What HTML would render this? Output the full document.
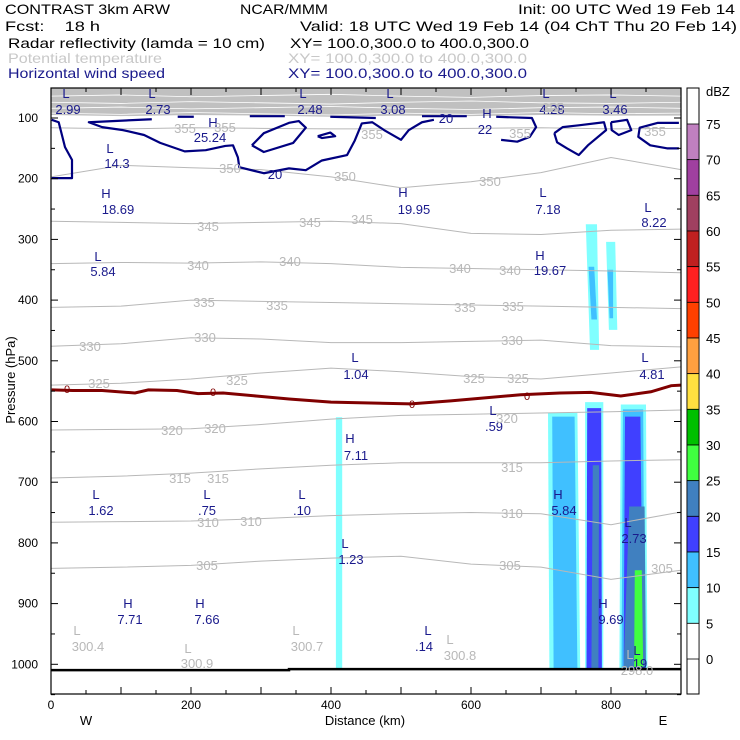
<!DOCTYPE html>
<html><head><meta charset="utf-8"><style>
html,body{margin:0;padding:0;background:#fff;}
svg{display:block;font-family:"Liberation Sans",sans-serif;}
</style></head><body>
<svg id="chart" width="740" height="740" viewBox="0 0 740 740" xmlns="http://www.w3.org/2000/svg">
<g font-size="14">
<text x="5" y="14" fill="#000" textLength="165" lengthAdjust="spacingAndGlyphs">CONTRAST  3km ARW</text>
<text x="240" y="14" fill="#000" textLength="88" lengthAdjust="spacingAndGlyphs">NCAR/MMM</text>
<text x="518" y="14" fill="#000" textLength="217" lengthAdjust="spacingAndGlyphs">Init: 00 UTC Wed 19 Feb 14</text>
<text x="5" y="31" fill="#000" xml:space="preserve" textLength="95" lengthAdjust="spacingAndGlyphs">Fcst:    18 h</text>
<text x="300" y="31" fill="#000" textLength="437" lengthAdjust="spacingAndGlyphs">Valid: 18 UTC Wed 19 Feb 14 (04 ChT Thu 20 Feb 14)</text>
<text x="8" y="48" fill="#000" textLength="257" lengthAdjust="spacingAndGlyphs">Radar reflectivity (lamda = 10 cm)</text>
<text x="290" y="48" fill="#000" textLength="239" lengthAdjust="spacingAndGlyphs">XY= 100.0,300.0 to 400.0,300.0</text>
<text x="8" y="63" fill="#c8c8c8" textLength="154" lengthAdjust="spacingAndGlyphs">Potential temperature</text>
<text x="288" y="63" fill="#c8c8c8" textLength="239" lengthAdjust="spacingAndGlyphs">XY= 100.0,300.0 to 400.0,300.0</text>
<text x="8" y="78" fill="#1a1a8c" textLength="157" lengthAdjust="spacingAndGlyphs">Horizontal wind speed</text>
<text x="288" y="78" fill="#1a1a8c" textLength="239" lengthAdjust="spacingAndGlyphs">XY= 100.0,300.0 to 400.0,300.0</text>
</g>
<defs><clipPath id="plotclip"><rect x="51" y="88" width="630" height="606"/></clipPath></defs>
<g id="plot" clip-path="url(#plotclip)"></g>
<g id="labels"></g>
<rect x="51" y="88" width="630" height="606" fill="none" stroke="#000" stroke-width="1.2"/>
<g id="axes" font-size="12"></g>
<g id="cbar" font-size="13"></g>
</svg>
<script>
// ---------- data ----------
const pressureTicks = [100,200,300,400,500,600,700,800,900,1000];
const distanceTicks = [0,200,400,600,800];
const gridKm = [0,100,200,300,400,500,600,700,800,900];
const thetaLevels = [355,350,345,340,335,330,325,320,315,310,305];
const thetaP355 = [116,118,116,117,118,118,117,116,118,117];
const thetaP350 = [197,178,182,185,197,215,205,190,165,185];
const thetaP345 = [270,272,274,272,270,274,290,292,285,283];
const thetaP340 = [340,338,339,337,340,346,348,350,352,355];
const thetaP335 = [412,410,400,402,404,406,408,410,412,414];
const thetaP330 = [476,472,462,464,470,470,468,466,475,477];
const thetaP325 = [540,537,530,520,512,518,526,530,520,510];
const thetaP320 = [614,613,612,605,596,590,588,586,584,581];
const thetaP315 = [693,690,685,678,672,668,668,668,665,663];
const thetaP310 = [766,765,764,760,755,752,750,752,770,749];
const thetaP305 = [842,840,837,830,825,822,835,840,860,845];
const thetaSeries = [thetaP355,thetaP350,thetaP345,thetaP340,thetaP335,thetaP330,thetaP325,thetaP320,thetaP315,thetaP310,thetaP305];
const upperLevels = [360,370,380,390];
const upperP360 = [92,94,91,93,95,92,94,91,93,92];
const upperP370 = [84,82,85,83,81,84,86,83,82,84];
const upperP380 = [74,76,73,75,77,74,72,75,76,74];
const upperP390 = [64,62,65,63,61,64,66,63,62,64];
const upperSeries = [upperP360,upperP370,upperP380,upperP390];
const denseBandBottomP = [95,97,95,96,98,96,97,95,96,96];
const frzKm = [1,31,73,120,139,180,210,246,293,340,400,514,571,671,727,771,814,857,886,900];
const frzP  = [548,549,549,553,548,549,554,553,558,563,568,571,566,556,553,552,558,551,541,540];
const windKm = [
 [1,11,20,30,30,1],
 [144,54,73,103,133,156,191,221,249,260,267,269,304,340,364,387,423,434,444,459,476,500,511,530,547],
 [287,304,340,354,364,346,304,287],
 [381,399,406,387,381],
 [636,687,693,684,666,643],
 [719,731,754,790,793,767,754,737,723,719],
 [800,823,829,811,801,800],
 [897,867,841,839,856,880,897],
 [181,204],[284,334],[399,464],[530,594]
];
const windP = [
 [103,107,148,169,199,199],
 [102,107,115,120,128,141,155,153,146,145,165,181,191,183,186,170,161,137,109,107,120,136,120,107,103],
 [145,125,108,105,116,141,156,145],
 [130,124,130,133,130],
 [98,100,115,131,139,136],
 [125,115,112,107,120,145,161,150,140,125],
 [107,103,120,128,120,107],
 [108,108,116,131,145,150,150],
 [98,98],[97,97],[98,100],[97,97]
];
const cellTLkm = [407,764,768,793,795,710,716,763,766,774,814,817,820,826,834];
const cellTRkm = [416,780,776,806,803,752,748,789,786,783,850,846,842,848,844];
const cellBLkm = [407,770,772,797,798,712,718,763,765,772,812,815,818,818,833];
const cellBRkm = [416,783,780,809,803,756,752,789,787,782,852,848,846,850,846];
const cellTopP = [593,275,345,304,350,586,592,568,578,672,572,580,592,740,845];
const cellBotP = [1008,482,432,449,430,1008,1008,1008,1008,1008,1008,1008,1008,1008,1008];
const cellDbz  = [5,5,10,5,10,5,10,5,15,20,5,10,15,20,25];
const cbarLevels = [75,70,65,60,55,50,45,40,35,30,25,20,15,10,5,0];
const cbarColors = ["#c080c0","#a040a0","#a04060","#c02020","#ff2020","#ff4000","#ffa040","#ffe040","#00c000","#40ff40","#4080c0","#4040ff","#40c0ff","#80ffff","#ffffff"];
const dbzColors = {5:"#80ffff",10:"#40c0ff",15:"#4040ff",20:"#4080c0",25:"#40ff40"};
// ---------- scales ----------
const X0=51, KMPX=0.7, Y100=118, PPX=0.607;
const xS = km => X0 + km*KMPX;
const yS = p => Y100 + (p-100)*PPX;
const NS="http://www.w3.org/2000/svg";
function mk(tag, attrs, parent){const e=document.createElementNS(NS,tag);for(const k in attrs)e.setAttribute(k,attrs[k]);parent.appendChild(e);return e;}
const plot=document.getElementById('plot');
let d="M"+xS(0)+","+yS(40);
gridKm.forEach((k,i)=>{d+=" L"+xS(k)+","+yS(denseBandBottomP[i]);});
d+=" L"+xS(900)+","+yS(40)+" Z";
const band=mk('path',{d:d,fill:"#c0c0c0"},plot);


upperSeries.forEach((arr,j)=>{
  const pts=gridKm.map((k,i)=>xS(k)+","+yS(arr[i])).join(" ");
  const l=mk('polyline',{points:pts,fill:"none",stroke:"#fff","stroke-width":0.8},plot);
  
  
});
cellDbz.forEach((z,i)=>{
  const pts=[[xS(cellTLkm[i]),yS(cellTopP[i])],[xS(cellTRkm[i]),yS(cellTopP[i])],[xS(cellBRkm[i]),yS(cellBotP[i])],[xS(cellBLkm[i]),yS(cellBotP[i])]].map(a=>a.join(",")).join(" ");
  const c=mk('polygon',{points:pts,fill:dbzColors[z]},plot);
  
  
});
thetaSeries.forEach((arr,j)=>{
  const pts=gridKm.map((k,i)=>xS(k)+","+yS(arr[i])).join(" ");
  const l=mk('polyline',{points:pts,fill:"none",stroke:"#b8b8b8","stroke-width":1},plot);
  
  
});
const fz=mk('polyline',{points:frzKm.map((k,i)=>xS(k)+","+yS(frzP[i])).join(" "),fill:"none",stroke:"#800000","stroke-width":3},plot);


windKm.forEach((ks,j)=>{
  const pts=ks.map((k,i)=>xS(k)+","+yS(windP[j][i])).join(" ");
  const w=mk('polyline',{points:pts,fill:"none",stroke:"#000080","stroke-width":2.2,"stroke-linejoin":"round"},plot);
  
  
});
const sf=mk('polyline',{points:xS(0)+","+(yS(1008)+1)+" "+xS(340)+","+(yS(1008)+1)+" "+xS(340)+","+yS(1008)+" "+xS(900)+","+yS(1008),fill:"none",stroke:"#000","stroke-width":2.5},plot);


// ---------- text labels ----------
const lab=document.getElementById('labels');
function txt(x,y,s,col,name,size){const t=mk('text',{x:x,y:y,fill:col,"text-anchor":"middle","font-size":size||13},lab);t.textContent=s;return t;}
const NV="#1a1a8c", GR="#b8b8b8";
const extrema=[["L","2.99",66,68,98,114],["L","2.73",152,158,98,114],["L","2.48",303,310,98,114],["L","3.08",390,393,98,114],["L","4.28",546,552,98,114],["L","3.46",613,615,98,114],
["H","25.24",213,210,127,142],["H","22",487,485,118,134],["L","14.3",110,117,153,168],["H","18.69",106,118,198,214],["H","19.95",403,414,197,214],["L","7.18",543,548,197,214],["L","8.22",648,654,212,227],
["L","5.84",98,103,261,276],["H","19.67",540,550,260,275],["L","1.04",355,356,362,379],["L","4.81",645,652,362,379],["L",".59",493,494,415,431],["H","7.11",350,356,443,460],
["L","1.62",96,101,499,515],["L",".75",207,207,499,515],["L",".10",302,302,499,515],["H","5.84",558,564,499,515],["L","2.73",628,634,527,543],["L","1.23",345,351,548,564],
["H","7.71",128,130,608,624],["H","7.66",200,207,608,624],["H","9.69",603,611,608,624],["L",".14",428,424,635,651],["L","19",637,640,655,668]];
extrema.forEach(e=>{txt(e[2],e[4],e[0],NV,'wind-extremum-letter');txt(e[3],e[5],e[1],NV,'wind-extremum-value');});
const grayEx=[["L","300.4",77,88,635,651],["L","300.9",188,197,653,668],["L","300.7",296,307,635,651],["L","300.8",450,460,644,660],["L","298.0",630,637,659,675]];
grayEx.forEach(e=>{txt(e[2],e[4],e[0],GR,'theta-extremum-letter');txt(e[3],e[5],e[1],GR,'theta-extremum-value');});
[[275,179,"20"],[446,123,"20"]].forEach(a=>{txt(a[0],a[1],a[2],NV,'wind-contour-label');});
const thLab=[["355",185,133],["355",225,132],["355",372,139],["355",520,138],["355",553,112],["355",655,136],["350",230,173],["350",345,181],["350",490,186],
["345",208,231],["345",310,227],["345",362,224],["340",198,270],["340",290,266],["340",460,273],["340",510,275],["335",204,307],["335",277,310],["335",465,312],["335",513,311],
["330",90,351],["330",205,342],["330",512,345],["325",99,388],["325",237,385],["325",474,383],["325",518,383],["320",172,435],["320",215,433],["320",507,423],
["315",180,483],["315",218,483],["315",512,472],["310",208,527],["310",251,526],["310",512,518],["305",207,570],["305",510,570],["305",662,573]];
thLab.forEach(a=>{txt(a[1],a[2],a[0],GR,'theta-contour-label');});
[[67,393],[213,396],[412,408],[527,400]].forEach(a=>{txt(a[0],a[1],"0","#800000",'freezing-level-label',11);});
// ---------- axes ----------
const ax=document.getElementById('axes');
for(let p=100;p<=1050;p+=50){
  const y=yS(p), L=(p%100===0)?7:4;
  mk('line',{x1:51,y1:y,x2:51+L,y2:y,stroke:"#000"},ax);
  mk('line',{x1:681,y1:y,x2:681-L,y2:y,stroke:"#000"},ax);
}
pressureTicks.forEach(p=>{const t=mk('text',{x:38,y:yS(p)+4,"text-anchor":"end",fill:"#000"},ax);t.textContent=p;});
for(let k=0;k<=900;k+=50){
  const x=xS(k), L=(k%100===0)?7:4;
  mk('line',{x1:x,y1:694,x2:x,y2:694-L,stroke:"#000"},ax);
  mk('line',{x1:x,y1:88,x2:x,y2:88+L,stroke:"#000"},ax);
}
distanceTicks.forEach(k=>{const t=mk('text',{x:xS(k),y:709,"text-anchor":"middle",fill:"#000"},ax);t.textContent=k;});
let t=mk('text',{x:365,y:725,"text-anchor":"middle",fill:"#000","font-size":13},ax);t.textContent="Distance (km)";


t=mk('text',{x:86,y:725,"text-anchor":"middle",fill:"#000","font-size":13},ax);t.textContent="W";


t=mk('text',{x:663,y:725,"text-anchor":"middle",fill:"#000","font-size":13},ax);t.textContent="E";


t=mk('text',{x:0,y:0,"text-anchor":"middle",fill:"#000","font-size":13,transform:"translate(15,380) rotate(-90)"},ax);t.textContent="Pressure (hPa)";


// ---------- colorbar ----------
const cb=document.getElementById('cbar');
const cbY = lv => 124 + (75-lv)*(535/75);
mk('rect',{x:687,y:88,width:12,height:606,fill:"#fff",stroke:"#000"},cb);
cbarColors.forEach((c,i)=>{
  const r=mk('rect',{x:687,y:cbY(cbarLevels[i]),width:12,height:cbY(cbarLevels[i+1])-cbY(cbarLevels[i]),fill:c,stroke:"#000","stroke-width":0.8},cb);
  
  
});
cbarLevels.forEach(lv=>{const tt=mk('text',{x:706,y:cbY(lv)+5,fill:"#000"},cb);tt.textContent=lv;});
t=mk('text',{x:706,y:96,fill:"#000"},cb);t.textContent="dBZ";


</script>
</body></html>
